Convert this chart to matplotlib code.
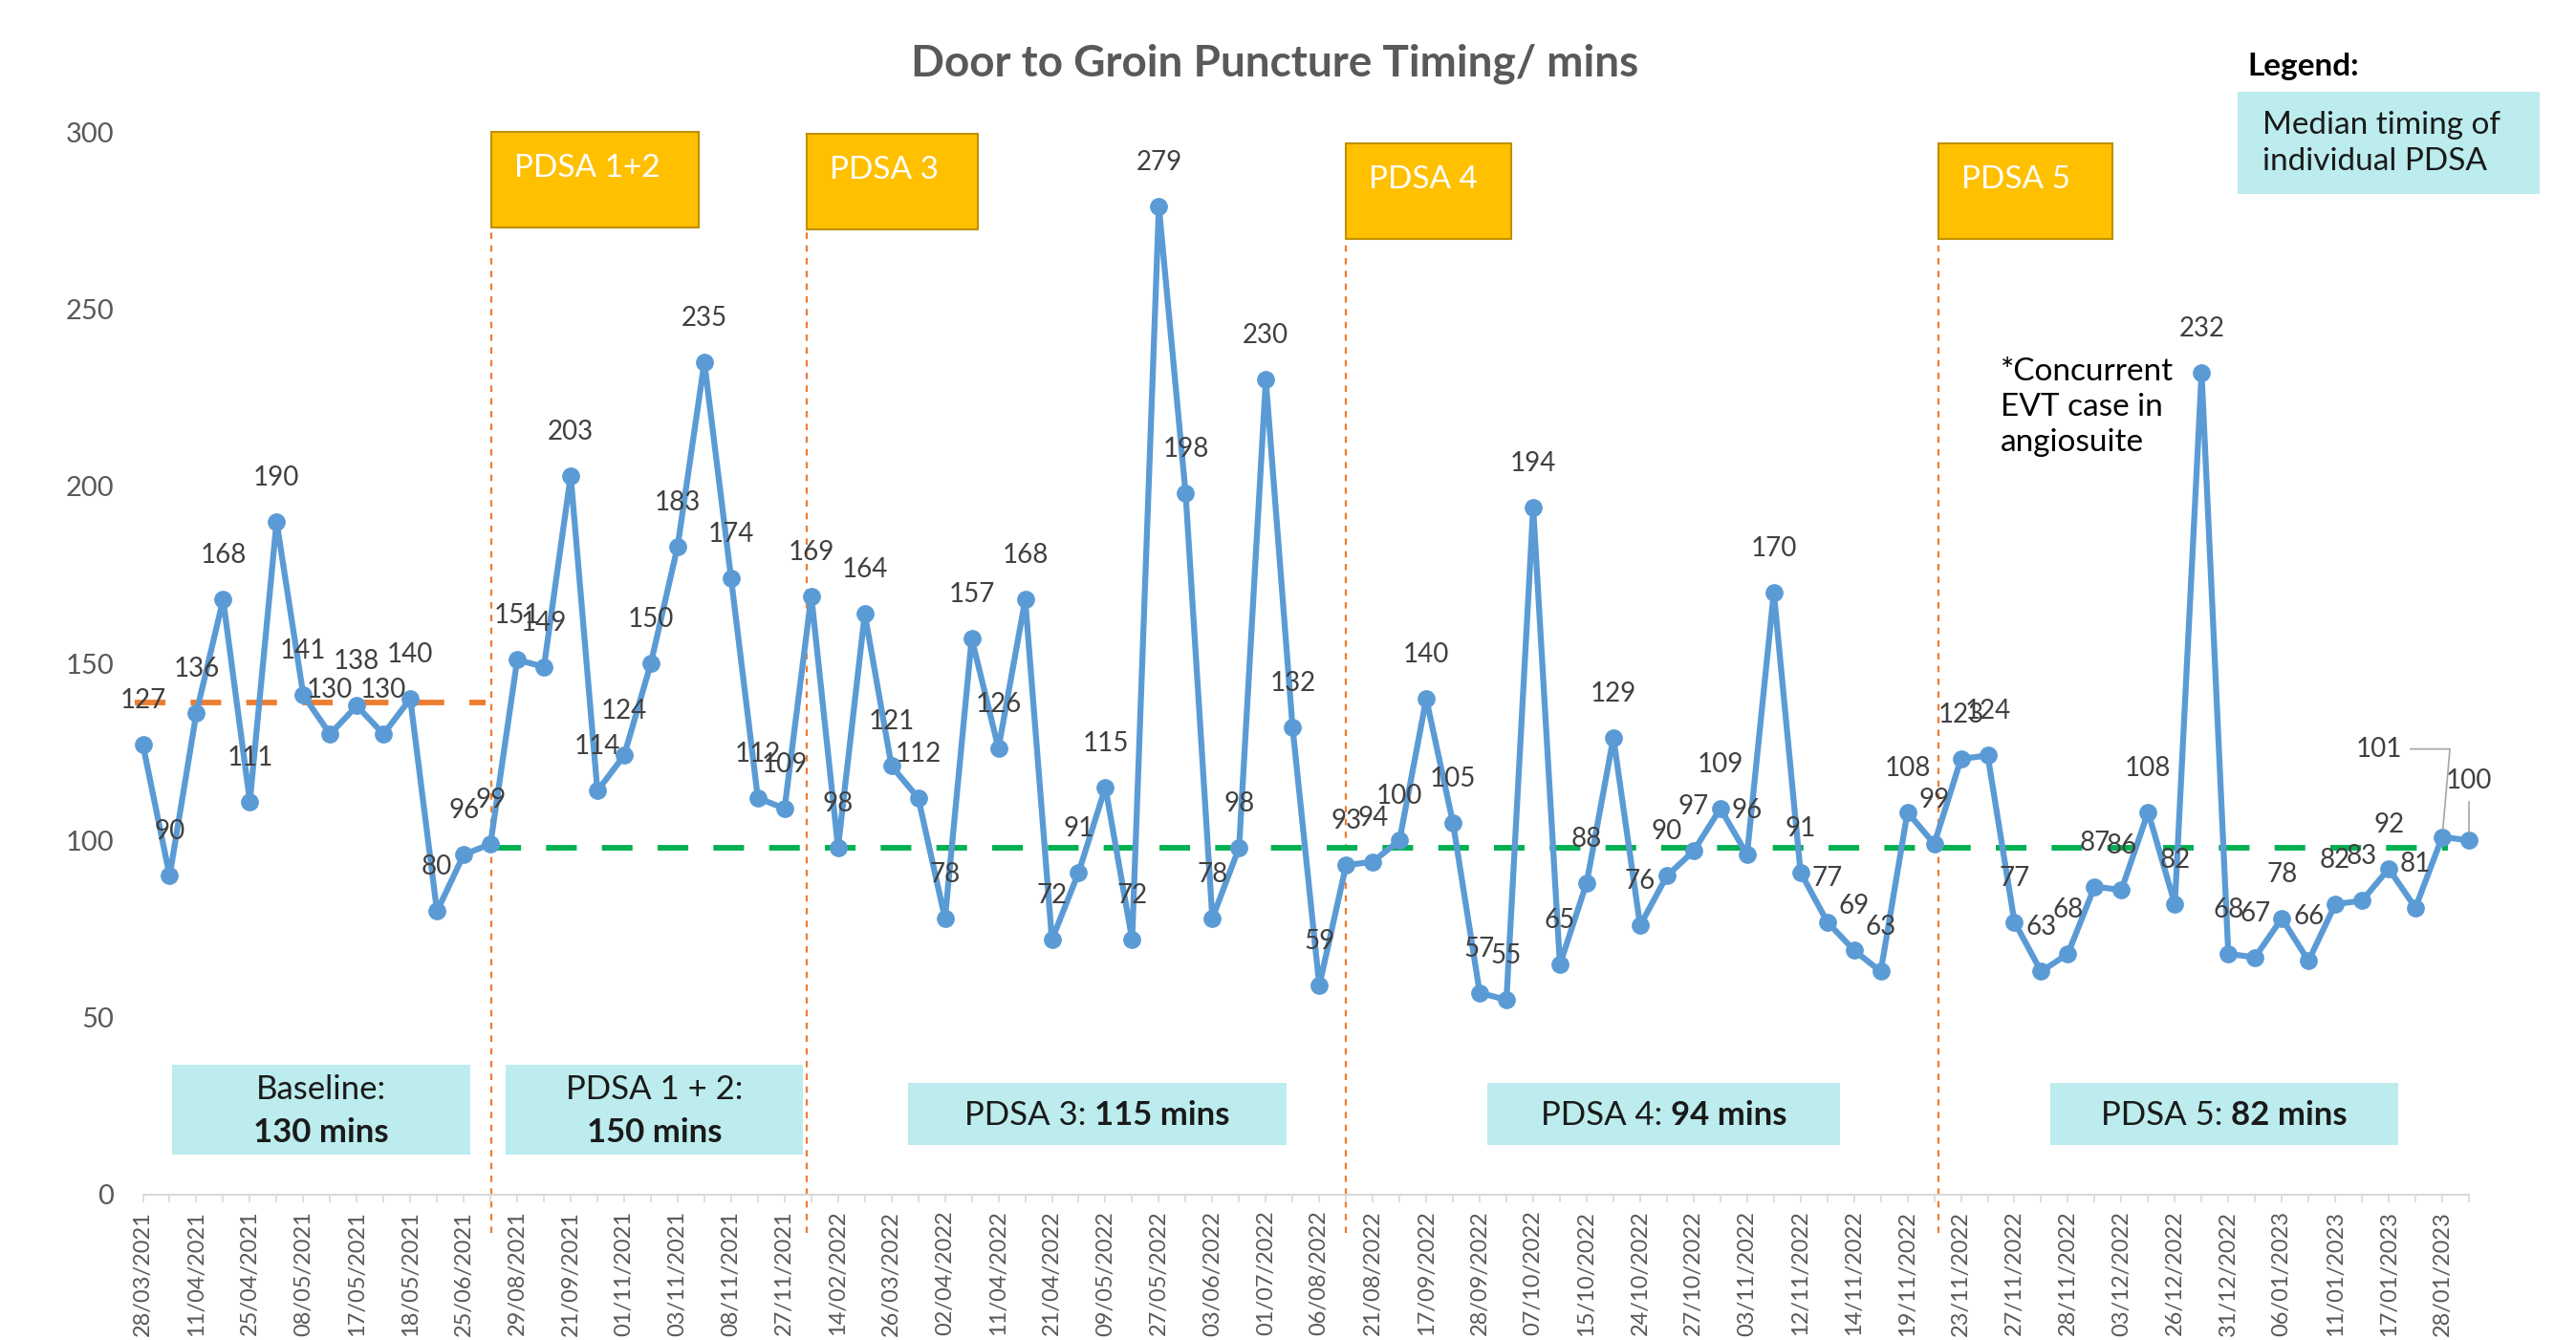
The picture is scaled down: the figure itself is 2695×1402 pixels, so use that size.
import matplotlib
matplotlib.use('Agg')
import matplotlib.pyplot as plt
from matplotlib.patches import Rectangle

plt.rcParams['font.family'] = ['Lato', 'DejaVu Sans']

# ---------------- data ----------------
baseline = [127, 90, 136, 168, 111, 190, 141, 130, 138, 130, 140, 80, 96, 99]
pdsa12 = [151, 149, 203, 114, 124, 150, 183, 235, 174, 112, 109, 169]
pdsa3 = [98, 164, 121, 112, 78, 157, 126, 168, 72, 91, 115, 72, 279, 198, 78, 98,
         230, 132, 59, 93]
pdsa4 = [94, 100, 140, 105, 57, 55, 194, 65, 88, 129, 76, 90, 97, 109, 96, 170, 91,
         77, 69, 63, 108, 99]
pdsa5 = [123, 124, 77, 63, 68, 87, 86, 108, 82, 232, 68, 67, 78, 66, 82, 83, 92, 81,
         101, 100]
values = baseline + pdsa12 + pdsa3 + pdsa4 + pdsa5

# dates shown under every second case
date_labels = ['28/03/2021', '11/04/2021', '25/04/2021', '08/05/2021', '17/05/2021',
               '18/05/2021', '25/06/2021', '29/08/2021', '21/09/2021', '01/11/2021',
               '03/11/2021', '08/11/2021', '27/11/2021', '14/02/2022', '26/03/2022',
               '02/04/2022', '11/04/2022', '21/04/2022', '09/05/2022', '27/05/2022',
               '03/06/2022', '01/07/2022', '06/08/2022', '21/08/2022', '17/09/2022',
               '28/09/2022', '07/10/2022', '15/10/2022', '24/10/2022', '27/10/2022',
               '03/11/2022', '12/11/2022', '14/11/2022', '19/11/2022', '23/11/2022',
               '27/11/2022', '28/11/2022', '03/12/2022', '26/12/2022', '31/12/2022',
               '06/01/2023', '11/01/2023', '17/01/2023', '28/01/2023']

baseline_median_line = 139
pdsa_median_line = 98

phase_names = ['PDSA 1+2', 'PDSA 3', 'PDSA 4', 'PDSA 5']
summary_first = ['Baseline:', 'PDSA 1 + 2:', 'PDSA 3: ', 'PDSA 4: ', 'PDSA 5: ']
summary_mins = [130, 150, 115, 94, 82]

# ---------------- layout ----------------
W, H = 2695, 1402
DPI = 100
fig = plt.figure(figsize=(W / DPI, H / DPI), dpi=DPI)
fig.patch.set_facecolor('white')

X0, X1 = 149.5, 2583.0   # pixel x of first / last case
Y0, Y300 = 1250.0, 138.0  # pixel y of value 0 / 300
ax = fig.add_axes([X0 / W, 1 - Y0 / H, (X1 - X0) / W, (Y0 - Y300) / H])
n = len(values)
xs = list(range(n))
ax.set_xlim(0, n - 1)
ax.set_ylim(0, 300)


def px2data(px, py):
    return ((px - X0) / (X1 - X0) * (n - 1), (Y0 - py) / (Y0 - Y300) * 300)


def fx(px):
    return px / W


def fy(py):
    return 1 - py / H


BLUE = '#5B9BD5'
ORANGE = '#ED7D31'
GREEN = '#00B050'
CYAN = '#BCECED'
GOLD = '#FFC000'
LABEL_FS = 20

# spines / ticks
for s in ['top', 'right', 'left']:
    ax.spines[s].set_visible(False)
ax.spines['bottom'].set_color('#D9D9D9')
ax.spines['bottom'].set_linewidth(1.5)
ax.spines['bottom'].set_clip_on(False)

tick_labels = []
for i in range(n):
    tick_labels.append(date_labels[i // 2] if i % 2 == 0 and i // 2 < len(date_labels) else '')
ax.set_xticks(xs)
ax.set_xticklabels(tick_labels, rotation=90, fontsize=17, color='#595959')
ax.tick_params(axis='x', length=6, width=1.2, color='#D9D9D9', pad=6)
ax.set_yticks([0, 50, 100, 150, 200, 250, 300])
ax.tick_params(axis='y', length=0, labelsize=21, labelcolor='#595959', pad=22)

# median lines
ax.plot([-0.3, 12.8], [baseline_median_line] * 2, color=ORANGE, lw=4.2,
        dashes=(5.5, 4.5), clip_on=False, zorder=2)
ax.plot([13.0, 86.2], [pdsa_median_line] * 2, color=GREEN, lw=4.2,
        dashes=(5.5, 4.5), clip_on=False, zorder=2)

# main series
ax.plot(xs, values, color=BLUE, lw=4.5, marker='o', markersize=12.5,
        clip_on=False, zorder=3)

# data labels
for i, v in enumerate(values):
    if i >= n - 2:
        continue
    ax.annotate(str(v), (i, v), xytext=(0, 46), textcoords='offset pixels',
                ha='center', va='center', fontsize=LABEL_FS, color='#404040', zorder=4)
# last two labels moved with leader lines
ax.annotate(str(values[-2]), (n - 2, values[-2]), xytext=(-66, 92),
            textcoords='offset pixels', ha='center', va='center', fontsize=LABEL_FS,
            color='#404040',
            arrowprops=dict(arrowstyle='-', color='#A6A6A6', lw=1.2,
                            connectionstyle='angle,angleA=0,angleB=85,rad=0',
                            shrinkA=4, shrinkB=6))
ax.annotate(str(values[-1]), (n - 1, values[-1]), xytext=(0, 62),
            textcoords='offset pixels', ha='center', va='center', fontsize=LABEL_FS,
            color='#404040',
            arrowprops=dict(arrowstyle='-', color='#A6A6A6', lw=1.2,
                            shrinkA=4, shrinkB=6))

# phase separators and gold boxes
phase_x_px = [514, 844, 1408, 2028]
box_w = [217, 179, 173, 182]
box_top = [138, 140, 150, 150]
box_h = 100
for name, px, bw, bt in zip(phase_names, phase_x_px, box_w, box_top):
    xd, ytop = px2data(px, bt + box_h)
    _, ybot = px2data(px, 1290)
    ax.plot([xd, xd], [ybot, ytop], color=ORANGE, lw=1.6, dashes=(3, 3),
            clip_on=False, zorder=1)
    fig.patches.append(Rectangle((fx(px), fy(bt + box_h)), bw / W, box_h / H,
                                 transform=fig.transFigure, facecolor=GOLD,
                                 edgecolor='#BF9000', lw=1.5, zorder=5))
    fig.text(fx(px + 24), fy(bt + 0.38 * box_h), name, color='white', fontsize=24,
             ha='left', va='center', zorder=6)

# summary (cyan) boxes
cyan_boxes = [(180, 1114, 312, 94), (529, 1114, 311, 94), (950, 1133, 396, 65),
              (1556, 1133, 369, 65), (2145, 1133, 364, 65)]
SUM_FS = 25
fig.canvas.draw()
renderer = fig.canvas.get_renderer()
for k, (bx, by, bw, bh) in enumerate(cyan_boxes):
    fig.patches.append(Rectangle((fx(bx), fy(by + bh)), bw / W, bh / H,
                                 transform=fig.transFigure, facecolor=CYAN,
                                 edgecolor='none', zorder=5))
    cx = bx + bw / 2
    if k < 2:
        fig.text(fx(cx), fy(by + 0.28 * bh), summary_first[k], fontsize=SUM_FS,
                 ha='center', va='center', color='#1A1A1A', zorder=6)
        fig.text(fx(cx), fy(by + 0.76 * bh), f'{summary_mins[k]} mins', fontsize=SUM_FS,
                 weight='bold', ha='center', va='center', color='#1A1A1A', zorder=6)
    else:
        t1 = fig.text(0, 0, summary_first[k], fontsize=SUM_FS, ha='left', va='center',
                      color='#1A1A1A', zorder=6)
        t2 = fig.text(0, 0, f'{summary_mins[k]} mins', fontsize=SUM_FS, weight='bold',
                      ha='left', va='center', color='#1A1A1A', zorder=6)
        w1 = t1.get_window_extent(renderer).width
        w2 = t2.get_window_extent(renderer).width
        start = cx - (w1 + w2) / 2
        t1.set_position((fx(start), fy(by + 0.52 * bh)))
        t2.set_position((fx(start + w1), fy(by + 0.52 * bh)))

# legend
fig.text(fx(2351), fy(69), 'Legend:', fontsize=24, weight='bold', color='black',
         ha='left', va='center')
fig.patches.append(Rectangle((fx(2341), fy(203)), 316 / W, 107 / H,
                             transform=fig.transFigure, facecolor=CYAN,
                             edgecolor='none', zorder=5))
fig.text(fx(2367), fy(150), 'Median timing of\nindividual PDSA', fontsize=24,
         color='#1A1A1A', ha='left', va='center', linespacing=1.3, zorder=6)

# note
fig.text(fx(2093), fy(426), '*Concurrent\nEVT case in\nangiosuite', fontsize=24,
         color='black', ha='left', va='center', linespacing=1.3)

# title
fig.text(fx(1334), fy(67), 'Door to Groin Puncture Timing/ mins', fontsize=33,
         weight='bold', color='#595959', ha='center', va='center')

fig.savefig('out.png', dpi=DPI, facecolor='white')
